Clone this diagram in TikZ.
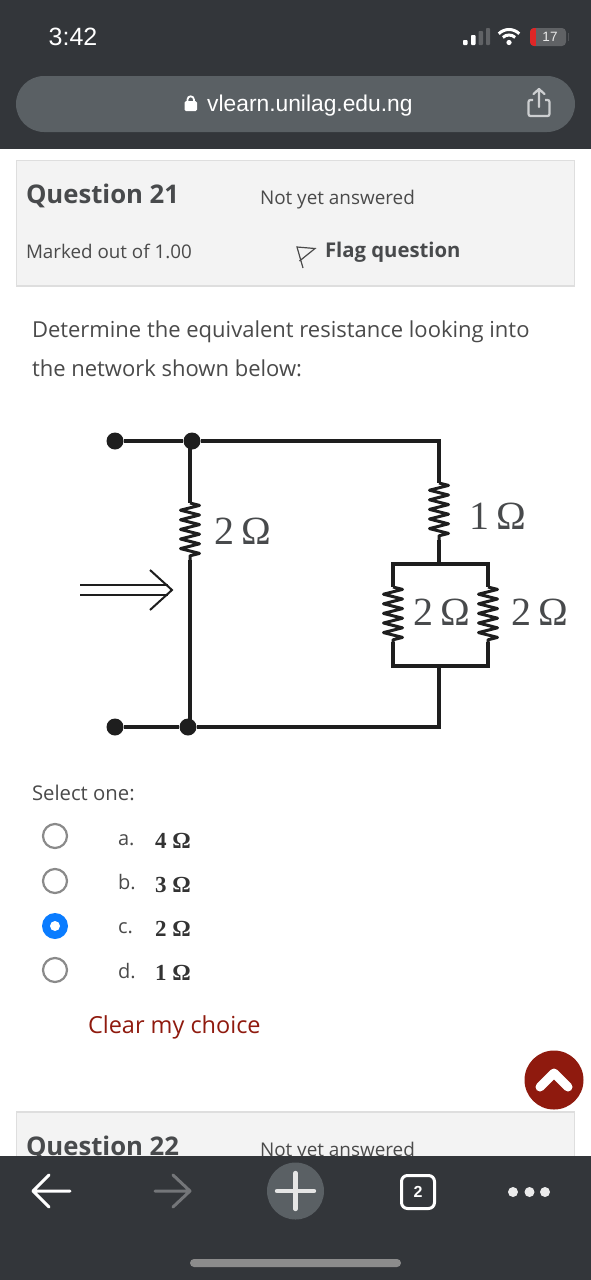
\documentclass[tikz,border=0pt]{standalone}
\usepackage{fontspec}
\usetikzlibrary{decorations.pathmorphing,arrows.meta}
\setmainfont{Open Sans}
\newfontfamily\uifont{Liberation Sans}
\newfontfamily\serifom{Liberation Serif}
\definecolor{barbg}{HTML}{33363A}
\definecolor{pillbg}{HTML}{5A6064}
\definecolor{panelbg}{HTML}{F3F3F3}
\definecolor{panelln}{HTML}{DEDEDE}
\definecolor{txt}{HTML}{4A4A4A}
\definecolor{darktxt}{HTML}{484A4C}
\definecolor{radio}{HTML}{8A8A8A}
\definecolor{blueradio}{HTML}{0A7CFF}
\definecolor{maroon}{HTML}{8F1A0E}
\definecolor{wire}{HTML}{1E1E1E}
\tikzset{
  txtn/.style={anchor=base west,inner sep=0pt,outer sep=0pt,text=txt},
  fs/.style={font=\fontsize{#1}{#1}\selectfont},
  fsb/.style={font=\fontsize{#1}{#1}\selectfont\bfseries},
  ohm/.style={inner sep=0pt,text=darktxt,font=\fontsize{40}{40}\selectfont\serifom},
  ans/.style={anchor=base west,inner sep=0pt,text=black!80,font=\fontsize{23}{23}\selectfont\serifom\bfseries},
  wireln/.style={draw=wire,line width=3.4pt,line join=miter},
  res/.style={draw=wire,line width=3pt,line join=round,decorate,decoration={zigzag,amplitude=9.5pt,segment length=9.6pt}},
  dotn/.style={circle,fill=wire,minimum size=17pt,inner sep=0pt},
  radioff/.style={circle,draw=radio,line width=2.2pt,fill=white,minimum size=24pt,inner sep=0pt},
  panel/.style={fill=panelbg,draw=panelln,line width=1.2pt},
  topic/.style={draw=white,line width=2.2pt,line cap=round,line join=round},
}
\begin{document}
\begin{tikzpicture}[x=1pt,y=-1pt]
\useasboundingbox (0,0) rectangle (591,1280);
\fill[white] (0,0) rectangle (591,1280);
% top bar
\fill[barbg] (0,0) rectangle (591,149);
\fill[pillbg,rounded corners=28pt] (16,76) rectangle (575,132);
\node[anchor=base west,inner sep=0pt,text=white,font=\fontsize{25}{25}\selectfont\uifont] (clock) at (48.5,45) {3:42};
\node[anchor=base west,inner sep=0pt,text=white,font=\fontsize{22.8}{22.8}\selectfont\uifont] (url) at (207,111) {vlearn.unilag.edu.ng};
% lock
\fill[white,rounded corners=1.5pt] (184.5,101) rectangle (197,111);
\draw[white,line width=1.8pt] (187.5,102) -- (187.5,99.5) arc[start angle=180,end angle=0,radius=3.2pt] -- (193.9,102);
% share
\draw[draw=white!70!pillbg,line width=2.2pt,rounded corners=2pt] (533,100) -- (528.5,100) -- (528.5,116) -- (549.5,116) -- (549.5,100) -- (545,100);
\draw[draw=white!70!pillbg,line width=2.2pt,line cap=round,line join=round] (539,107) -- (539,89) (533.5,94) -- (539,89) -- (544.5,94);
% signal
\fill[white,rounded corners=.8pt] (463,40) rectangle (467.5,45);
\fill[white,rounded corners=.8pt] (471,35) rectangle (475.5,45);
\fill[white!22!barbg,rounded corners=.8pt] (478.5,31) rectangle (483,45);
\fill[white!22!barbg,rounded corners=.8pt] (486,28) rectangle (490,45);
% wifi
\fill[white] (509,42.5) circle (2.6pt);
\draw[white,line width=3pt] (509,44) ++(47:9pt) arc[start angle=47,end angle=133,radius=9pt];
\draw[white,line width=3pt] (509,44) ++(45:14.5pt) arc[start angle=45,end angle=135,radius=14.5pt];
% battery
\fill[white!22!barbg,rounded corners=4pt] (530,28) rectangle (566,46);
\fill[white!14!barbg] (567.5,33) rectangle (569,41);
\begin{scope}
\clip[rounded corners=4pt] (530,28) rectangle (566,46);
\fill[red!85!black!85!white] (530,28) rectangle (536,46);
\end{scope}
\node[inner sep=0pt,text=white!92!black,font=\fontsize{13.5}{13.5}\selectfont\uifont] (batt) at (550,37) {17};
% question 21 panel
\path[panel] (16.5,160.5) rectangle (574.5,286);
\node[txtn,fsb=25.7,text=darktxt] (q21) at (26,203) {Question 21};
\node[txtn,fs=18.9] (nya) at (260,204) {Not yet answered};
\node[txtn,fs=18.8] (mark) at (26,258) {Marked out of 1.00};
\node[txtn,fsb=20.3,text=darktxt] (flag) at (325,257) {Flag question};
\draw[draw=txt,line width=1.2pt,line join=miter] (303,268) -- (297,247) -- (315,248.5) -- (299.5,261);
% question
\node[txtn,fs=22] (q1) at (32,337) {Determine the equivalent resistance looking into};
\node[txtn,fs=22] (q2) at (32,376) {the network shown below:};
% circuit
\node[dotn] (t1) at (115,441) {};
\node[dotn] (t2) at (192,441) {};
\node[dotn] (b1) at (115,727) {};
\node[dotn] (b2) at (188,727) {};
\coordinate (tr) at (439,441);
\coordinate (br) at (439,727);
\coordinate (r1a) at (190,503); \coordinate (r1b) at (190,560);
\coordinate (r2a) at (439,483); \coordinate (r2b) at (439,540);
\coordinate (jt) at (439,564); \coordinate (jb) at (439,666);
\coordinate (lt) at (393,564); \coordinate (lb) at (393,666);
\coordinate (rt) at (488,564); \coordinate (rb) at (488,666);
\coordinate (r3a) at (393,587); \coordinate (r3b) at (393,642);
\coordinate (r4a) at (488,587); \coordinate (r4b) at (488,642);
\coordinate (t2v) at (190,441); \coordinate (b2v) at (190,727);
\draw[wireln] (t1) -- (t2) -- (tr) -- (r2a);
\draw[res] (r2a) -- (r2b);
\draw[wireln] (r2b) -- (jt);
\draw[wireln] (t2v) -- (r1a);
\draw[res] (r1a) -- (r1b);
\draw[wireln] (r1b) -- (b2v);
\draw[wireln] (b1) -- (b2) -- (br) -- (jb);
\draw[wireln] (r3a) -- (lt) -- (rt) -- (r4a);
\draw[wireln] (r3b) -- (lb) -- (rb) -- (r4b);
\draw[res] (r3a) -- (r3b);
\draw[res] (r4a) -- (r4b);
\node[ohm] (l1) at (243,531) {2\,Ω};
\node[ohm] (l2) at (498,516) {1\,Ω};
\node[ohm] (l3) at (442,612) {2\,Ω};
\node[ohm] (l4) at (540,612) {2\,Ω};
% input arrow
\coordinate (as1) at (80,585); \coordinate (ae1) at (168,585);
\coordinate (as2) at (80,595); \coordinate (ae2) at (168,595);
\coordinate (ah1) at (150,570); \coordinate (ah2) at (172,590); \coordinate (ah3) at (150,610);
\draw[draw=wire,line width=2pt] (as1) -- (ae1);
\draw[draw=wire,line width=2pt] (as2) -- (ae2);
\draw[draw=wire,line width=2pt,line join=miter] (ah1) -- (ah2) -- (ah3);
% select
\node[txtn,fs=20.3] (sel) at (32,800) {Select one:};
\node[radioff] (ra) at (55,836) {};
\node[radioff] (rb) at (55,881) {};
\node[circle,fill=blueradio,minimum size=26pt,inner sep=0pt] (rc) at (55,926) {};
\fill[white] (rc.center) circle (5pt);
\node[radioff] (rd) at (55,970) {};
\node[txtn,fs=20] (oa) at (118,845) {a.};
\node[txtn,fs=20] (ob) at (118,889) {b.};
\node[txtn,fs=20] (oc) at (118,933) {c.};
\node[txtn,fs=20] (od) at (118,978) {d.};
\node[ans] (va) at (155,848) {4 Ω};
\node[ans] (vb) at (155,892) {3 Ω};
\node[ans] (vc) at (155,936) {2 Ω};
\node[ans] (vd) at (155,980) {1 Ω};
\node[txtn,fs=23.5,text=maroon] (clear) at (88,1033) {Clear my choice};
% scroll button
\node[circle,fill=maroon,minimum size=59pt,inner sep=0pt] (up) at (554,1080) {};
\draw[white,line width=9pt,line cap=round,line join=round] (540,1087) -- (554,1073) -- (568,1087);
% question 22 panel
\path[panel] (16.5,1112) rectangle (574.5,1170);
\node[txtn,fsb=25.7,text=darktxt] (q22) at (26,1155) {Question 22};
\node[txtn,fs=18.9] (nya2) at (260,1156) {Not yet answered};
% bottom bar
\fill[barbg] (0,1156) rectangle (591,1280);
\draw[topic,line width=3pt] (70,1191) -- (33,1191) (49,1175) -- (33,1191) -- (49,1207);
\draw[topic,line width=3pt,draw=white!32!barbg] (155,1191) -- (190,1191) (173,1175) -- (190,1191) -- (173,1207);
\node[circle,fill=pillbg,minimum size=57pt,inner sep=0pt] (plus) at (295.5,1191) {};
\draw[draw=white!90!black,line width=4.4pt,line cap=round] (277,1191) -- (314,1191) (295.5,1173) -- (295.5,1209);
\node[draw=white,line width=3pt,rounded corners=6pt,minimum width=33pt,minimum height=33pt,inner sep=0pt,text=white,font=\fontsize{16}{16}\selectfont\uifont\bfseries] (tabs) at (418,1192) {2};
\fill[white!92!black] (513,1192) circle (5pt) (529.5,1192) circle (5pt) (545,1192) circle (5pt);
\fill[white!55!black,rounded corners=4pt] (190,1259) rectangle (401,1267);
\end{tikzpicture}
\end{document}
